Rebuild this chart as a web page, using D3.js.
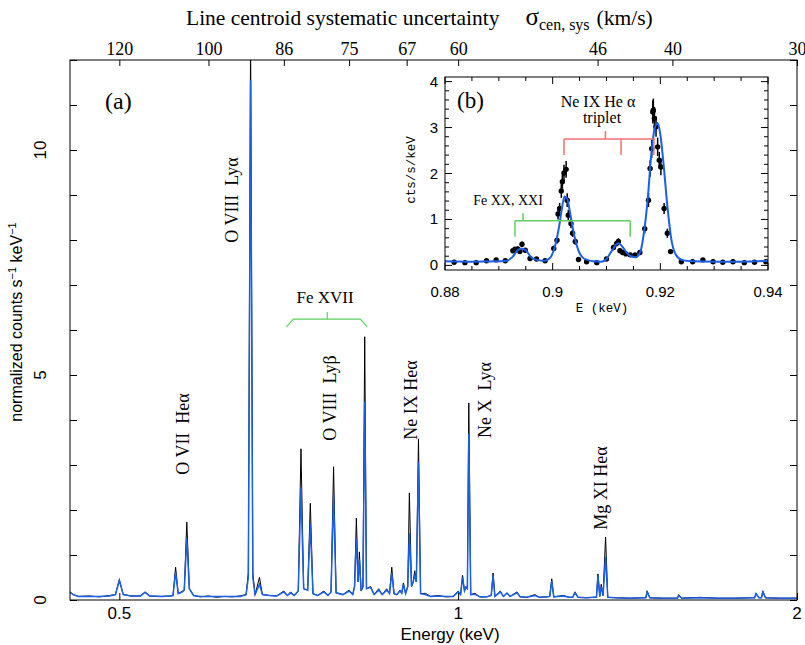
<!DOCTYPE html>
<html>
<head>
<meta charset="utf-8">
<script src="https://cdn.jsdelivr.net/npm/d3@7"></script>
<style>
body { margin: 0; background: #fff; }
</style>
</head>
<body>
<script>
// ---- main spectrum (a): energy (keV), data and model (counts/s/keV)
var specE = [
	0.452,0.455,0.460,0.470,0.480,0.490,
	0.496,0.500,0.504,0.512,0.522,0.527,0.532,0.545,0.555,
	0.558,0.561,0.564,0.569,0.571,0.574,0.577,0.582,
	0.590,0.600,0.610,0.620,0.630,0.640,
	0.648,0.651,0.654,0.657,0.660,0.666,0.670,0.680,0.690,
	0.700,0.705,0.710,0.715,0.721,0.725,0.729,0.735,0.739,0.743,0.750,
	0.760,0.766,0.771,0.775,0.779,0.790,0.800,0.806,
	0.809,0.812,0.815,0.817,0.820,0.823,0.826,0.829,0.836,0.842,
	0.850,0.856,0.864,0.869,0.873,0.877,0.882,0.888,0.891,0.894,0.898,
	0.902,0.905,0.909,0.912,0.915,0.918,0.922,0.926,0.935,0.945,0.960,0.975,0.990,
	1.000,1.005,1.009,1.013,1.016,1.019,1.022,1.026,1.035,1.045,1.060,
	1.070,1.074,1.078,1.090,1.097,1.105,1.112,1.128,1.135,1.150,1.170,1.180,1.200,
	1.206,1.211,1.216,1.240,1.255,1.264,1.270,1.278,1.300,1.320,1.327,
	1.331,1.336,1.340,1.345,1.352,1.358,1.380,1.420,1.460,1.468,1.472,1.480,
	1.520,1.566,1.570,1.580,1.640,1.700,1.760,1.820,1.834,1.839,1.850,1.860,1.865,1.875,1.930,2.000
];
var specData = [
	0.18,0.12,0.08,0.09,0.07,0.10,
	0.12,0.45,0.12,0.09,0.09,0.18,0.09,0.08,0.09,
	0.10,0.73,0.14,0.20,0.22,1.73,0.25,0.10,
	0.07,0.09,0.06,0.08,0.07,0.09,
	0.12,0.60,12.6,0.60,0.12,0.50,0.12,0.10,0.09,
	0.20,0.10,0.18,0.10,0.20,3.36,0.25,0.22,2.15,0.14,0.10,
	0.20,0.10,0.18,2.96,0.16,0.12,0.22,0.12,
	0.30,1.82,0.40,1.07,0.20,0.30,5.85,0.25,0.30,0.12,
	0.25,0.12,0.25,0.14,0.73,0.14,0.12,0.22,0.15,0.38,0.14,
	0.30,2.38,0.30,0.40,0.65,0.40,3.58,0.14,0.15,0.08,0.10,0.07,0.08,
	0.20,0.12,0.55,0.20,0.30,0.25,4.38,0.12,0.15,0.07,0.07,
	0.10,0.60,0.08,0.20,0.08,0.16,0.08,0.18,0.07,0.06,0.12,0.06,0.07,
	0.08,0.47,0.07,0.10,0.06,0.06,0.18,0.06,0.05,0.06,0.06,
	0.58,0.08,0.35,0.10,1.40,0.06,0.05,0.04,0.05,0.05,0.20,0.05,
	0.04,0.04,0.12,0.04,0.06,0.04,0.04,0.05,0.05,0.15,0.05,0.05,0.20,0.05,0.04,0.04
];
var specModel = [
	0.17,0.12,0.08,0.08,0.08,0.09,
	0.12,0.44,0.12,0.09,0.09,0.17,0.09,0.08,0.09,
	0.10,0.62,0.14,0.18,0.22,1.37,0.25,0.10,
	0.08,0.08,0.08,0.08,0.08,0.08,
	0.12,0.50,11.55,0.50,0.12,0.35,0.12,0.10,0.09,
	0.18,0.10,0.16,0.10,0.20,2.50,0.25,0.22,1.69,0.14,0.10,
	0.18,0.10,0.18,2.33,0.16,0.12,0.20,0.12,
	0.30,1.37,0.40,0.90,0.20,0.30,4.40,0.25,0.28,0.12,
	0.22,0.12,0.22,0.14,0.60,0.14,0.12,0.20,0.15,0.35,0.14,
	0.30,1.49,0.30,0.40,0.55,0.40,3.07,0.14,0.12,0.08,0.09,0.08,0.08,
	0.18,0.12,0.50,0.20,0.28,0.25,3.69,0.12,0.13,0.07,0.07,
	0.10,0.55,0.08,0.18,0.08,0.15,0.08,0.16,0.07,0.06,0.10,0.06,0.07,
	0.08,0.42,0.07,0.09,0.06,0.06,0.16,0.06,0.05,0.06,0.06,
	0.55,0.08,0.30,0.10,0.96,0.06,0.05,0.04,0.05,0.05,0.18,0.05,
	0.04,0.04,0.10,0.04,0.05,0.04,0.04,0.05,0.05,0.14,0.05,0.05,0.18,0.05,0.04,0.04
];

// ---- inset (b): Ne IX He-alpha region
var insetE = [
	0.8796,0.8817,0.8837,0.8858,0.8877,0.8895,0.8912,0.8926,0.8930,0.8935,
	0.8939,0.8943,0.8949,0.8958,0.8970,0.8986,0.9002,0.9008,0.9010,0.9013,
	0.9016,0.9018,0.9021,0.9025,0.9027,0.9029,0.9034,0.9037,0.9042,0.9048,
	0.9063,0.9082,0.9100,0.9113,0.9119,0.9122,0.9125,0.9130,0.9136,0.9144,
	0.9153,0.9162,0.9171,0.9178,0.9181,0.9184,0.9186,0.9187,0.9189,0.9192,
	0.9195,0.9198,0.9201,0.9207,0.9213,0.9219,0.9239,0.9260,0.9279,0.9298,
	0.9316,0.9335,0.9356,0.9375,0.9396
];
var insetCts = [
	0.08,0.07,0.06,0.06,0.10,0.12,0.10,0.32,0.35,0.36,
	0.30,0.46,0.33,0.15,0.14,0.10,0.37,0.55,1.12,1.24,
	1.62,1.82,2.01,2.09,1.42,1.09,0.91,0.70,0.52,0.13,
	0.08,0.06,0.14,0.39,0.48,0.52,0.32,0.28,0.25,0.23,
	0.23,0.28,0.80,1.42,2.11,2.54,3.34,3.38,3.20,3.02,
	2.58,2.29,2.14,1.24,0.70,0.30,0.08,0.08,0.12,0.08,
	0.07,0.08,0.06,0.07,0.08
];
var insetErr = [
	0.02,0.02,0.02,0.02,0.02,0.03,0.02,0.05,0.05,0.05,
	0.05,0.06,0.05,0.03,0.03,0.03,0.06,0.08,0.12,0.12,
	0.15,0.15,0.18,0.18,0.15,0.12,0.10,0.08,0.07,0.03,
	0.02,0.02,0.03,0.06,0.07,0.07,0.05,0.05,0.04,0.04,
	0.04,0.05,0.10,0.15,0.18,0.20,0.25,0.25,0.25,0.22,
	0.20,0.18,0.18,0.12,0.10,0.05,0.02,0.02,0.03,0.02,
	0.02,0.02,0.02,0.02,0.02
];
var insetModelE = [0.880,0.885,0.890,0.8915,0.8925,0.8935,0.8942,0.8950,0.8960,0.8970,0.8985,
	0.8995,0.9005,0.9012,0.9018,0.9022,0.9027,0.9033,0.9040,0.9048,0.9058,0.9075,0.9090,
	0.9100,0.9110,0.9122,0.9130,0.9138,0.9145,0.9155,0.9163,0.9170,0.9177,0.9183,0.9190,
	0.9195,0.9200,0.9206,0.9213,0.9220,0.9228,0.9240,0.9260,0.9300,0.9350,0.9400];
var insetModel = [0.09,0.08,0.09,0.10,0.18,0.33,0.37,0.33,0.18,0.12,0.10,
	0.16,0.45,0.85,1.30,1.50,1.45,1.10,0.65,0.32,0.15,0.09,0.08,
	0.14,0.32,0.48,0.40,0.27,0.20,0.18,0.30,0.75,1.50,2.40,3.00,
	3.10,2.85,2.20,1.30,0.60,0.25,0.12,0.09,0.08,0.08,0.10];

// ---- axes
var xTicks = [0.5, 1, 2];
var yTicks = [0, 5, 10];
var sigmaLabels = [120, 100, 86, 75, 67, 60, 46, 40, 30];
var sigmaE = [0.5, 0.6, 0.7, 0.8, 0.9, 1.0, 1.33, 1.55, 2.0];   // energy of each top tick
var insetXTicks = [0.88, 0.9, 0.92, 0.94];
var insetYTicks = [0, 1, 2, 3, 4];

// ---- bracket markers (energy, value)
var feBracketE = [0.7037, 0.7139, 0.8185, 0.8303];
var feBracketV = [6.07, 6.24, 6.24, 6.07];
var feTick = {e: 0.765, v0: 6.24, v1: 6.40};
var neTripletE = [0.9021, 0.9127, 0.9188];     // f, i, r
var neBar = {v: 2.75, drop: 2.40, top: 2.925, eTop: 0.9098};
var feXXE = [0.8930, 0.9144];
var feXXBar = {v: 0.973, drop: 0.625, top: 1.134, eTop: 0.8945};

var serif = "'Liberation Serif', 'Times New Roman', serif",
	sans = "'Liberation Sans', Arial, sans-serif",
	mono = "'Liberation Mono', 'DejaVu Sans Mono', monospace";
var blue = "#1a5fe6";

var svg = d3.select("body").append("svg")
	.attr("width", 805).attr("height", 645);

// main scales
var x = d3.scaleLog().domain([0.452, 2]).range([70, 797]);
var y = d3.scaleLinear().domain([0, 12]).range([600, 60]);

svg.append("clipPath").attr("id", "clipMain")
	.append("rect").attr("x", 70).attr("y", 60).attr("width", 727).attr("height", 540);

var spec = specE.map(function(e, i) { return {e: e, d: specData[i], m: specModel[i]}; });

var lineData = d3.line().x(function(d) { return x(d.e); }).y(function(d) { return y(d.d); });
var lineModel = d3.line().x(function(d) { return x(d.e); }).y(function(d) { return y(d.m); });

var plot = svg.append("g").attr("clip-path", "url(#clipMain)");
plot.append("path").datum(spec).attr("d", lineData)
	.attr("fill", "none").attr("stroke", "#000").attr("stroke-width", 1);
plot.append("path").datum(spec).attr("d", lineModel)
	.attr("fill", "none").attr("stroke", blue).attr("stroke-width", 1.5);

// frame
svg.append("rect").attr("x", 70).attr("y", 60).attr("width", 727).attr("height", 540)
	.attr("fill", "none").attr("stroke", "#000").attr("stroke-width", 1);

// left and right ticks (inward)
var yMinor = d3.range(0, 13);
svg.append("g").attr("transform", "translate(70,0)")
	.call(d3.axisLeft(y).tickValues(yMinor).tickSize(-7).tickFormat(""))
	.call(function(g) { g.select(".domain").remove(); });
svg.append("g").attr("transform", "translate(797,0)")
	.call(d3.axisRight(y).tickValues(yMinor).tickSize(-7).tickFormat(""))
	.call(function(g) { g.select(".domain").remove(); });
svg.append("g").attr("transform", "translate(0,600)")
	.call(d3.axisBottom(x).tickValues(xTicks).tickSize(-7).tickFormat(""))
	.call(function(g) { g.select(".domain").remove(); });

// y tick labels, rotated
svg.selectAll("text.ylab").data(yTicks).enter().append("text")
	.attr("class", "ylab")
	.attr("transform", function(d) { return "translate(46," + y(d) + ") rotate(-90)"; })
	.attr("text-anchor", "middle")
	.style("font-family", sans).style("font-size", "17px")
	.text(function(d) { return d; });

// x tick labels
svg.selectAll("text.xlab").data(xTicks).enter().append("text")
	.attr("class", "xlab")
	.attr("x", function(d) { return x(d); }).attr("y", 619)
	.attr("text-anchor", "middle")
	.style("font-family", sans).style("font-size", "17px")
	.text(function(d) { return d; });

svg.append("text").attr("x", 450).attr("y", 640).attr("text-anchor", "middle")
	.style("font-family", sans).style("font-size", "17px")
	.text("Energy (keV)");

var yl = svg.append("text").attr("transform", "translate(22,322) rotate(-90)")
	.attr("text-anchor", "middle")
	.style("font-family", sans).style("font-size", "16px");
yl.append("tspan").text("normalized counts s");
yl.append("tspan").attr("dy", -6).style("font-size", "11px").text("\u22121");
yl.append("tspan").attr("dy", 6).text(" keV");
yl.append("tspan").attr("dy", -6).style("font-size", "11px").text("\u22121");

// top axis: systematic uncertainty
svg.append("g").attr("transform", "translate(0,60)")
	.call(d3.axisTop(x).tickValues(sigmaE).tickSize(-6).tickPadding(5)
		.tickFormat(function(d, i) { return sigmaLabels[i]; }))
	.call(function(g) {
		g.select(".domain").remove();
		g.selectAll("text").style("font-family", serif).style("font-size", "18px").attr("fill", "#000");
	});

var tt = svg.append("text").attr("x", 186).attr("y", 25)
	.style("font-family", serif).style("font-size", "21.5px");
tt.append("tspan").text("Line centroid systematic uncertainty");
tt.append("tspan").attr("dx", 26).style("font-size", "25px").text("\u03c3");
tt.append("tspan").attr("dy", 5).style("font-size", "16px").text("cen, sys");
tt.append("tspan").attr("dy", -5).attr("dx", 7).text("(km/s)");

// panel label and line annotations
svg.append("text").attr("x", 105).attr("y", 109)
	.style("font-family", serif).style("font-size", "24px").text("(a)");

var lineLabels = [
	{t: "O VII  He\u03b1", x: 183, y: 434},
	{t: "O VIII  Ly\u03b1", x: 232, y: 200},
	{t: "O VIII  Ly\u03b2", x: 330, y: 398},
	{t: "Ne IX He\u03b1", x: 411, y: 400},
	{t: "Ne X  Ly\u03b1", x: 485, y: 400},
	{t: "Mg XI He\u03b1", x: 601, y: 488}
];
svg.selectAll("text.ann").data(lineLabels).enter().append("text")
	.attr("class", "ann")
	.attr("transform", function(d) { return "translate(" + (d.x + 6) + "," + d.y + ") rotate(-90)"; })
	.attr("text-anchor", "middle")
	.style("font-family", serif).style("font-size", "18px")
	.style("white-space", "pre").attr("xml:space", "preserve")
	.text(function(d) { return d.t; });

svg.append("text").attr("x", 325).attr("y", 303).attr("text-anchor", "middle")
	.style("font-family", serif).style("font-size", "17px").text("Fe XVII");

var green = "#5fcf5f";
svg.append("path")
	.attr("d", d3.line()(feBracketE.map(function(e, i) { return [x(e), y(feBracketV[i])]; })))
	.attr("fill", "none").attr("stroke", green).attr("stroke-width", 1.2);
svg.append("line").attr("x1", x(feTick.e)).attr("x2", x(feTick.e))
	.attr("y1", y(feTick.v0)).attr("y2", y(feTick.v1))
	.attr("stroke", green).attr("stroke-width", 1.2);

// ---- inset (b)
var xi = d3.scaleLinear().domain([0.88, 0.94]).range([445, 768]);
var yi = d3.scaleLinear().domain([-0.1, 4.1]).range([270, 77]);

svg.append("rect").attr("x", 445).attr("y", 77).attr("width", 323).attr("height", 193)
	.attr("fill", "#fff");
svg.append("clipPath").attr("id", "clipInset")
	.append("rect").attr("x", 445).attr("y", 77).attr("width", 323).attr("height", 193);

var ins = svg.append("g").attr("clip-path", "url(#clipInset)");

var pts = insetE.map(function(e, i) { return {e: e, c: insetCts[i], s: insetErr[i]}; });
ins.selectAll("line.err").data(pts).enter().append("line")
	.attr("class", "err")
	.attr("x1", function(d) { return xi(d.e); }).attr("x2", function(d) { return xi(d.e); })
	.attr("y1", function(d) { return yi(d.c - d.s); }).attr("y2", function(d) { return yi(d.c + d.s); })
	.attr("stroke", "#000").attr("stroke-width", 1.5);
ins.selectAll("circle").data(pts).enter().append("circle")
	.attr("cx", function(d) { return xi(d.e); }).attr("cy", function(d) { return yi(d.c); })
	.attr("r", 2.7).attr("fill", "#000");

ins.append("path")
	.datum(insetModelE.map(function(e, i) { return [e, insetModel[i]]; }))
	.attr("d", d3.line().curve(d3.curveMonotoneX)
		.x(function(d) { return xi(d[0]); }).y(function(d) { return yi(d[1]); }))
	.attr("fill", "none").attr("stroke", blue).attr("stroke-width", 2);

svg.append("rect").attr("x", 445).attr("y", 77).attr("width", 323).attr("height", 193)
	.attr("fill", "none").attr("stroke", "#000").attr("stroke-width", 1);

// inset ticks
var yiMinor = d3.range(0, 4.01, 0.2).map(function(v) { return +v.toFixed(1); });
var xiMinor = d3.range(0.88, 0.9401, 0.005).map(function(v) { return +v.toFixed(3); });
function tickLen(v, step) { return Math.abs(v / step - Math.round(v / step)) < 1e-6 ? 7 : 4; }

[445, 768].forEach(function(px, k) {
	svg.selectAll(null).data(yiMinor).enter().append("line")
		.attr("x1", px).attr("x2", function(d) { return px + (k ? -1 : 1) * tickLen(d, 1); })
		.attr("y1", function(d) { return yi(d); }).attr("y2", function(d) { return yi(d); })
		.attr("stroke", "#000");
});
[270, 77].forEach(function(py, k) {
	svg.selectAll(null).data(xiMinor).enter().append("line")
		.attr("y1", py).attr("y2", function(d) { return py + (k ? 1 : -1) * tickLen(d, 0.02); })
		.attr("x1", function(d) { return xi(d); }).attr("x2", function(d) { return xi(d); })
		.attr("stroke", "#000");
});

svg.selectAll("text.iyl").data(insetYTicks).enter().append("text")
	.attr("class", "iyl")
	.attr("x", 438).attr("y", function(d) { return yi(d) + 5; })
	.attr("text-anchor", "end")
	.style("font-family", sans).style("font-size", "15px")
	.text(function(d) { return d; });
svg.selectAll("text.ixl").data(insetXTicks).enter().append("text")
	.attr("class", "ixl")
	.attr("x", function(d) { return xi(d); }).attr("y", 297)
	.attr("text-anchor", "middle")
	.style("font-family", sans).style("font-size", "15px")
	.text(function(d) { return d; });

svg.append("text").attr("x", 602).attr("y", 312).attr("text-anchor", "middle")
	.style("font-family", mono).style("font-size", "12.5px").text("E (keV)");
svg.append("text").attr("transform", "translate(415,170) rotate(-90)").attr("text-anchor", "middle")
	.style("font-family", mono).style("font-size", "12.5px").text("cts/s/keV");

svg.append("text").attr("x", 457).attr("y", 108)
	.style("font-family", serif).style("font-size", "23px").text("(b)");
svg.append("text").attr("x", 598).attr("y", 107).attr("text-anchor", "middle")
	.style("font-family", serif).style("font-size", "16px").text("Ne IX He \u03b1");
svg.append("text").attr("x", 602).attr("y", 123).attr("text-anchor", "middle")
	.style("font-family", serif).style("font-size", "16px").text("triplet");
svg.append("text").attr("x", 508).attr("y", 205).attr("text-anchor", "middle")
	.style("font-family", serif).style("font-size", "14px").text("Fe XX, XXI");

// Ne IX triplet bracket (red)
var red = "#f07070";
var rb = svg.append("g").attr("stroke", red).attr("stroke-width", 1.5);
rb.append("line").attr("x1", xi(neTripletE[0])).attr("x2", xi(neTripletE[2]) + 1)
	.attr("y1", yi(neBar.v)).attr("y2", yi(neBar.v));
rb.selectAll(null).data(neTripletE).enter().append("line")
	.attr("x1", function(d) { return xi(d); }).attr("x2", function(d) { return xi(d); })
	.attr("y1", yi(neBar.v)).attr("y2", yi(neBar.drop));
rb.append("line").attr("x1", xi(neBar.eTop)).attr("x2", xi(neBar.eTop))
	.attr("y1", yi(neBar.v)).attr("y2", yi(neBar.top));

// Fe XX, XXI bracket (green)
var gb = svg.append("g").attr("stroke", green).attr("stroke-width", 1.5);
gb.append("line").attr("x1", xi(feXXE[0])).attr("x2", xi(feXXE[1]))
	.attr("y1", yi(feXXBar.v)).attr("y2", yi(feXXBar.v));
gb.selectAll(null).data(feXXE).enter().append("line")
	.attr("x1", function(d) { return xi(d); }).attr("x2", function(d) { return xi(d); })
	.attr("y1", yi(feXXBar.v)).attr("y2", yi(feXXBar.drop));
gb.append("line").attr("x1", xi(feXXBar.eTop)).attr("x2", xi(feXXBar.eTop))
	.attr("y1", yi(feXXBar.v)).attr("y2", yi(feXXBar.top));
</script>
</body>
</html>
